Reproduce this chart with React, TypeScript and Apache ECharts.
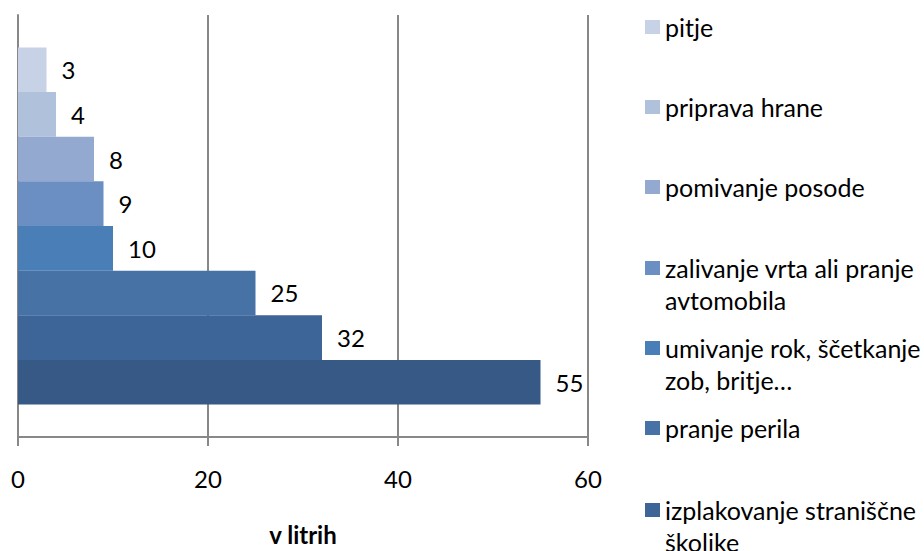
import React, { useEffect, useRef } from "react";
import * as echarts from "echarts";

const categories = [""];
const seriesNames = [
  "pitje",
  "priprava hrane",
  "pomivanje posode",
  "zalivanje vrta ali pranje avtomobila",
  "umivanje rok, ščetkanje zob, britje…",
  "pranje perila",
  "izplakovanje straniščne školjke",
  "prhanje, kopanje",
];
const values = [3, 4, 8, 9, 10, 25, 32, 55];
const xTicks = [0, 20, 40, 60];
const axisName = "v litrih";
const legendText: Record<string, string> = {
  "zalivanje vrta ali pranje avtomobila": "zalivanje vrta ali pranje\navtomobila",
  "umivanje rok, ščetkanje zob, britje…": "umivanje rok, ščetkanje\nzob, britje…",
  "izplakovanje straniščne školjke": "izplakovanje straniščne\nškoljke",
};

const colors = [
  "#C8D2E6",
  "#B0C1DC",
  "#94A9CF",
  "#6B8FC3",
  "#4A7EB6",
  "#4672A6",
  "#3D6597",
  "#375986",
];
// first-line centre y of each visible legend entry
const legendCenters = [27, 107, 187, 268, 348, 428, 510];

const FONT = "Lato";
const FS = 24;
const LFS = 25;
const GRAY = "#888888";

export default function App() {
  const ref = useRef<HTMLDivElement>(null);
  useEffect(() => {
    if (!ref.current) return;
    const chart = echarts.init(ref.current, null, { renderer: "svg" });
    const legends = legendCenters.map((c, i) => {
      const name = seriesNames[i];
      const twoLine = !!legendText[name];
      return {
        show: true,
        data: [name],
        orient: "vertical" as const,
        left: 645,
        top: twoLine ? c - 48 : c - 16,
        padding: 0,
        itemWidth: 15,
        itemHeight: 14,
        icon: "rect",
        selectedMode: false,
        formatter: (n: string) => (legendText[n] ? "\n" + legendText[n] : n),
        textStyle: {
          fontFamily: FONT,
          fontSize: LFS,
          color: "#000",
          lineHeight: 32,
        },
      };
    });
    chart.setOption({
      animation: false,
      backgroundColor: "#fff",
      textStyle: { fontFamily: FONT },
      grid: { left: 18, right: 336, top: 15, bottom: 114, outerBoundsMode: "none" },
      legend: legends,
      xAxis: {
        type: "value",
        min: xTicks[0],
        max: xTicks[xTicks.length - 1],
        interval: xTicks[1] - xTicks[0],
        name: axisName,
        nameLocation: "middle",
        nameGap: 85,
        nameTextStyle: { fontFamily: FONT, fontSize: FS, fontWeight: "bold", color: "#000" },
        axisLine: { show: true, lineStyle: { color: GRAY, width: 2 } },
        axisTick: { show: true, length: 9, lineStyle: { color: GRAY, width: 2 } },
        axisLabel: { fontFamily: FONT, fontSize: FS, color: "#000", margin: 29 },
        splitLine: { show: true, lineStyle: { color: GRAY, width: 2 } },
      },
      yAxis: {
        type: "category",
        data: categories,
        inverse: true,
        axisLine: { show: true, lineStyle: { color: GRAY, width: 2 } },
        axisTick: { show: false },
        axisLabel: { show: false },
      },
      series: seriesNames.map((name, i) => ({
        type: "bar",
        name,
        data: [values[i]],
        barGap: "0%",
        barCategoryGap: "15.4%",
        itemStyle: { color: colors[i] },
        label: {
          show: true,
          position: "right",
          distance: 15,
          fontFamily: FONT,
          fontSize: FS,
          color: "#000",
          formatter: "{c}",
        },
      })),
    });
    return () => chart.dispose();
  }, []);
  return (
    <div
      ref={ref}
      style={{ position: "absolute", left: 0, top: 0, width: 924, height: 551 }}
    />
  );
}
